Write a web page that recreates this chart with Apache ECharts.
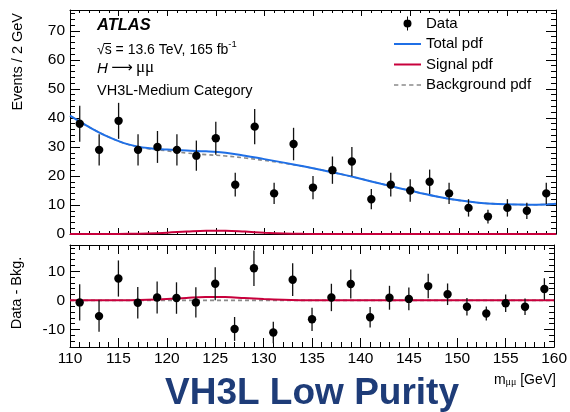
<!DOCTYPE html>
<html>
<head>
<meta charset="utf-8">
<script src="https://cdn.jsdelivr.net/npm/echarts@6/dist/echarts.min.js"></script>
<style>
  html, body { margin: 0; padding: 0; background: #fff; }
  #chart { width: 570px; height: 412px; }
</style>
</head>
<body>
<div id="chart"></div>
<script>
// Dimuon invariant mass bins (centres, GeV) and observed events per 2 GeV
const binCenters = [111, 113, 115, 117, 119, 121, 123, 125, 127, 129, 131, 133, 135,
                    137, 139, 141, 143, 145, 147, 149, 151, 153, 155, 157, 159];
const eventCounts = [38, 29, 39, 29, 30, 29, 27, 33, 17, 37, 14, 31, 16,
                     22, 25, 12, 17, 15, 18, 14, 9, 6, 9, 8, 14];
const countErrors = [6.2, 5.4, 6.2, 5.4, 5.5, 5.4, 5.2, 5.7, 4.1, 6.1, 3.7, 5.6, 4.0,
                     4.7, 5.0, 3.5, 4.1, 3.9, 4.2, 3.7, 3.0, 2.4, 3.0, 2.8, 3.7];
// Data minus background-only fit in each bin
const residuals = [-0.7, -5.4, 7.5, -0.8, 1.0, 0.8, -0.7, 5.7, -9.8, 11.0, -11.0, 7.1, -6.5,
                   1.0, 5.6, -5.8, 0.9, 0.5, 4.9, 2.1, -2.2, -4.5, -1.0, -2.2, 3.9];

// Fitted pdf curves, sampled every 2 GeV along the mass axis
const massGrid  = [110, 112, 114, 116, 118, 120, 122, 124, 126, 128, 130, 132, 134,
                   136, 138, 140, 142, 144, 146, 148, 150, 152, 154, 156, 158, 160];
const totalPdf  = [40.8, 36.8, 33.4, 30.9, 29.6, 29.1, 28.75, 28.5, 28.0, 27.0, 25.8, 24.6, 23.35,
                   22.0, 20.55, 18.95, 17.3, 15.7, 14.15, 12.75, 11.6, 10.8, 10.35, 10.15, 10.1, 10.4];
const bkgPdf    = [40.8, 36.8, 33.4, 30.85, 29.4, 28.65, 27.9, 27.35, 26.9, 26.2, 25.35, 24.4, 23.3,
                   22.0, 20.55, 18.95, 17.3, 15.7, 14.15, 12.75, 11.6, 10.8, 10.35, 10.15, 10.1, 10.4];
const signalPdf = [0, 0, 0, 0.05, 0.18, 0.45, 0.85, 1.15, 1.12, 0.82, 0.45, 0.18, 0.05,
                   0, 0, 0, 0, 0, 0, 0, 0, 0, 0, 0, 0, 0];
const baselineMass = [110, 160];
const baselineZero = [0, 0];

// Axis tick labels
const massTicks = [110, 115, 120, 125, 130, 135, 140, 145, 150, 155, 160];
const eventTicks = [0, 10, 20, 30, 40, 50, 60, 70];
const residualTicks = [-10, 0, 10];

const FONT = 'Liberation Sans, Arial, Helvetica, sans-serif';
const BLUE = '#1f6fe6';
const RED = '#c8003c';
const GREY = '#8a8a8a';

const topGrid = { left: 70, top: 10, width: 486, height: 224 };
const botGrid = { left: 70, top: 245, width: 486, height: 102 };
const topY = [0, 77.2];
const botY = [-16, 19];

function evenSteps(lo, hi, step) {
  const out = [];
  for (let v = Math.ceil(lo / step) * step; v <= hi + 1e-9; v += step) out.push(+v.toFixed(6));
  return out;
}

function xAxisPair(gridIndex, majorLen, minorLen, showLabels) {
  const base = {
    type: 'value', gridIndex, min: 110, max: 160, interval: 5,
    axisLine: { show: true, onZero: false, lineStyle: { color: '#000', width: 1 } },
    axisTick: { show: true, inside: true, length: majorLen, lineStyle: { color: '#000' } },
    minorTick: { show: true, splitNumber: 5, length: minorLen, lineStyle: { color: '#000' } },
    splitLine: { show: false }, minorSplitLine: { show: false }
  };
  return [
    Object.assign({}, base, {
      position: 'bottom',
      axisLabel: showLabels
        ? { show: true, customValues: massTicks, fontFamily: FONT, fontSize: 15.5, color: '#000', margin: 4 }
        : { show: false }
    }),
    Object.assign({}, base, { position: 'top', axisLabel: { show: false } })
  ];
}

function yAxisSet(gridIndex, range, labels, minorStep) {
  const common = {
    type: 'value', gridIndex, min: range[0], max: range[1],
    splitLine: { show: false }
  };
  const minorVals = evenSteps(range[0], range[1], minorStep).filter(v => labels.indexOf(v) < 0);
  const major = pos => Object.assign({}, common, {
    position: pos,
    axisLine: { show: true, onZero: false, lineStyle: { color: '#000', width: 1 } },
    axisTick: { show: true, inside: true, length: 10, customValues: labels, lineStyle: { color: '#000' } },
    axisLabel: pos === 'left'
      ? { show: true, customValues: labels, fontFamily: FONT, fontSize: 15.5, color: '#000', margin: 5 }
      : { show: false }
  });
  const minor = pos => Object.assign({}, common, {
    position: pos,
    axisLine: { show: false, onZero: false },
    axisTick: { show: true, inside: true, length: 5, customValues: minorVals, lineStyle: { color: '#000' } },
    axisLabel: { show: false }
  });
  return [major('left'), minor('left'), major('right'), minor('right')];
}

function pointsWithErrors(values) {
  return binCenters.map((m, i) => [m, values[i], countErrors[i]]);
}

function renderErrorPoint(params, api) {
  const x = api.value(0), y = api.value(1), e = api.value(2);
  const c = api.coord([x, y]);
  const lo = api.coord([x, y - e]);
  const hi = api.coord([x, y + e]);
  return {
    type: 'group',
    children: [
      { type: 'line', shape: { x1: lo[0], y1: lo[1], x2: hi[0], y2: hi[1] },
        style: { stroke: '#111', lineWidth: 1.3 } },
      { type: 'circle', shape: { cx: c[0], cy: c[1], r: 4.2 }, style: { fill: '#000' } }
    ]
  };
}

function curve(name, xIdx, yIdx, ys, color, width, dashed, z) {
  return {
    name, type: 'line', xAxisIndex: xIdx, yAxisIndex: yIdx,
    data: massGrid.map((m, i) => [m, ys[i]]),
    smooth: 0.4, symbol: 'none', clip: false, z,
    lineStyle: { color, width, type: dashed ? [4, 3] : 'solid' },
    itemStyle: { color },
    emphasis: { disabled: true }, animation: false
  };
}

// Legend glyphs: a dot with its error bar, solid strokes and a dashed stroke
const ICON_DATA = 'path://M13,0L14,0L14,14L13,14Z M9.5,7A4,4,0,1,1,17.5,7A4,4,0,1,1,9.5,7Z';
const ICON_SOLID = 'path://M0,0L27,0L27,2L0,2Z';
const ICON_DASHED = 'path://M0,0h4v1.5h-4Z M7,0h4v1.5h-4Z M14,0h4v1.5h-4Z M21,0h4v1.5h-4Z';

const chart = echarts.init(document.getElementById('chart'), null, { renderer: 'canvas' });

chart.setOption({
  animation: false,
  backgroundColor: '#fff',
  grid: [topGrid, botGrid],
  xAxis: [].concat(xAxisPair(0, 6, 3, false), xAxisPair(1, 9, 5, true)),
  yAxis: [].concat(yAxisSet(0, topY, eventTicks, 2), yAxisSet(1, botY, residualTicks, 2)),
  legend: {
    orient: 'vertical', left: 394, top: 16, padding: 0,
    itemWidth: 27, itemHeight: 14, itemGap: 5.5,
    selectedMode: false,
    textStyle: { fontFamily: FONT, fontSize: 15, color: '#000' },
    data: [
      { name: 'Data', icon: ICON_DATA },
      { name: 'Total pdf', icon: ICON_SOLID },
      { name: 'Signal pdf', icon: ICON_SOLID },
      { name: 'Background pdf', icon: ICON_DASHED }
    ]
  },
  series: [
    curve('Background pdf', 0, 0, bkgPdf, GREY, 1.6, true, 3),
    curve('Total pdf', 0, 0, totalPdf, BLUE, 2, false, 4),
    curve('Signal pdf', 0, 0, signalPdf, RED, 2, false, 5),
    {
      name: 'Data', type: 'custom', xAxisIndex: 0, yAxisIndex: 0,
      data: pointsWithErrors(eventCounts), encode: { x: 0, y: 1 },
      renderItem: renderErrorPoint, itemStyle: { color: '#000' }, z: 6
    },
    {
      name: 'bkg-residual', type: 'line', xAxisIndex: 2, yAxisIndex: 4,
      data: baselineMass.map((m, i) => [m, baselineZero[i]]),
      symbol: 'none', z: 3, lineStyle: { color: GREY, width: 1.6, type: [4, 3] }
    },
    curve('signal-residual', 2, 4, signalPdf, RED, 2, false, 4),
    {
      name: 'data-residual', type: 'custom', xAxisIndex: 2, yAxisIndex: 4,
      data: pointsWithErrors(residuals), encode: { x: 0, y: 1 },
      renderItem: renderErrorPoint, z: 6
    }
  ],
  graphic: [
    { type: 'text', left: 97, top: 17,
      style: { text: 'ATLAS', font: 'italic bold 16.5px ' + FONT, fill: '#000' } },
    { type: 'text', left: 97, top: 39,
      style: {
        text: '{a|√s = 13.6 TeV, 165 fb}{s|-1}',
        rich: {
          a: { fontFamily: FONT, fontSize: 14, fill: '#000', lineHeight: 18, verticalAlign: 'bottom' },
          s: { fontFamily: FONT, fontSize: 9.5, fill: '#000', lineHeight: 18, verticalAlign: 'top' }
        }
      } },
    { type: 'line', shape: { x1: 104, y1: 43.5, x2: 111, y2: 43.5 }, style: { stroke: '#000', lineWidth: 1 } },
    { type: 'text', left: 97, top: 59,
      style: {
        text: '{h|H} {a|⟶} {g|μμ}',
        rich: {
          h: { fontFamily: FONT, fontStyle: 'italic', fontSize: 15, fill: '#000', lineHeight: 20, verticalAlign: 'bottom' },
          a: { fontFamily: 'DejaVu Sans, sans-serif', fontSize: 15, fill: '#000', lineHeight: 20, verticalAlign: 'bottom' },
          g: { fontFamily: 'Liberation Serif, serif', fontSize: 17, fill: '#000', lineHeight: 20, verticalAlign: 'bottom' }
        }
      } },
    { type: 'text', left: 97, top: 83,
      style: { text: 'VH3L-Medium Category', font: '14.5px ' + FONT, fill: '#000' } },
    { type: 'text', x: 18, y: 13, rotation: Math.PI / 2,
      style: { text: 'Events / 2 GeV', font: '14.5px ' + FONT, fill: '#000', align: 'right', verticalAlign: 'middle' } },
    { type: 'text', x: 17, y: 293, rotation: Math.PI / 2,
      style: { text: 'Data - Bkg.', font: '14.5px ' + FONT, fill: '#000', align: 'center', verticalAlign: 'middle' } },
    { type: 'text', right: 14, top: 373,
      style: {
        text: '{m|m}{g|μμ}{a| [GeV]}',
        rich: {
          m: { fontFamily: FONT, fontSize: 14, fill: '#000', lineHeight: 18, verticalAlign: 'bottom' },
          g: { fontFamily: 'Liberation Serif, serif', fontSize: 10, fill: '#000', lineHeight: 18, verticalAlign: 'bottom' },
          a: { fontFamily: FONT, fontSize: 14, fill: '#000', lineHeight: 18, verticalAlign: 'bottom' }
        }
      } },
    { type: 'text', x: 312, y: 394,
      style: { text: 'VH3L Low Purity', font: 'bold 37px ' + FONT, fill: '#1e3c78', align: 'center', verticalAlign: 'middle' } }
  ]
});
</script>
</body>
</html>
